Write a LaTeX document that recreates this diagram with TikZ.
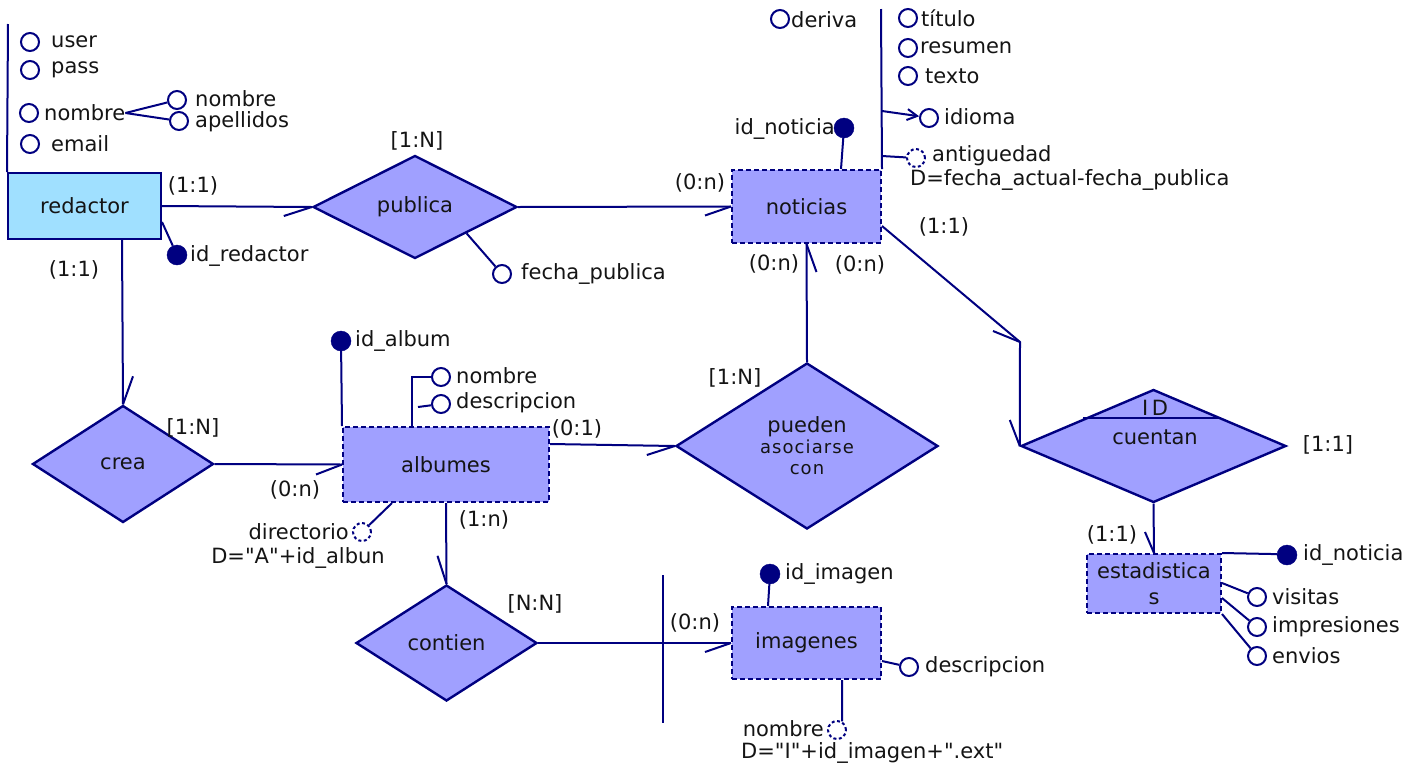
\documentclass[tikz,border=0pt]{standalone}
\usepackage{fontspec}
\setmainfont{DejaVu Sans}[Ligatures=TeXOff]
\usetikzlibrary{shapes.geometric,calc,arrows.meta}
\definecolor{ln}{HTML}{000080}
\definecolor{rel}{HTML}{A0A0FF}
\definecolor{ent}{HTML}{A0E0FF}
\definecolor{txt}{HTML}{141414}
\newcommand{\spacedsmall}{\fontsize{18}{22}\selectfont\addfontfeature{LetterSpace=6}}

\begin{document}
\begin{tikzpicture}[x=1pt,y=-1pt,
  every node/.style={font=\fontsize{21}{24}\selectfont, text=txt},
  conn/.style={draw=ln, line width=2pt},
  entity/.style={rectangle, draw=ln, fill=ent, line width=2pt, inner sep=0pt},
  weak/.style={rectangle, draw=ln, fill=rel, line width=2pt, dash pattern=on 5pt off 3pt, inner sep=0pt},
  relation/.style={diamond, draw=ln, fill=rel, line width=2.4pt, inner sep=0pt},
  attr/.style={circle, draw=ln, line width=2pt, fill=white, minimum size=18pt, inner sep=0pt},
  keyattr/.style={circle, draw=ln, fill=ln, minimum size=20pt, inner sep=0pt},
  derattr/.style={attr, dash pattern=on 3pt off 2.5pt},
  lbl/.style={inner sep=0pt},
]
\useasboundingbox (0,0) rectangle (1422,769);

% ---------- entities ----------
\node[entity, minimum width=153pt, minimum height=66pt] (redactor) at (84.5,206) {redactor};
\node[weak, minimum width=149pt, minimum height=73pt] (noticias) at (806.5,206.5) {noticias};
\node[weak, minimum width=206pt, minimum height=75pt] (albumes) at (446,464.5) {albumes};
\node[weak, minimum width=149pt, minimum height=72pt] (imagenes) at (806.5,643) {imagenes};
\node[weak, minimum width=134pt, minimum height=59pt, align=center] (estadisticas) at (1154,583.5) {estadistica\\[2pt]s};

% ---------- relationships ----------
\node[relation, minimum width=204pt, minimum height=103pt, aspect=1.98] (publica) at (415,207) {publica};
\node[relation, minimum width=181pt, minimum height=117pt, aspect=1.55] (crea) at (123,464) {crea};
\node[relation, minimum width=262pt, minimum height=166pt, aspect=1.58, align=center] (pueden) at (807,446)
  {pueden\\[-3pt]\spacedsmall asociarse\\[-3pt]\spacedsmall con};
\node[relation, minimum width=265pt, minimum height=113pt, aspect=2.35] (cuentan) at (1153.5,446) {};
\node[relation, minimum width=181pt, minimum height=116pt, aspect=1.56] (contien) at (446.5,643) {contien};
\node[lbl] (t-cuentan) at (1155,437) {cuentan};
\node[lbl] (t-id) at (1155,408) {I\,D};

% ---------- attributes of redactor ----------
\node[attr] (a-user) at (30,42) {};
\node[attr] (a-pass) at (30,70) {};
\node[attr] (a-nombre) at (29,113) {};
\node[attr] (a-email) at (30,144) {};
\node[attr] (a-nom1) at (177,100) {};
\node[attr] (a-ape) at (179,121) {};
\node[keyattr] (k-red) at (177,255) {};
\node[lbl, anchor=west] (t-user) at (51,42) {user};
\node[lbl, anchor=west] (t-pass) at (51,70) {pass};
\node[lbl, anchor=west] (t-nombre) at (44,113) {nombre};
\node[lbl, anchor=west] (t-email) at (51,144) {email};
\node[lbl, anchor=west] (t-nom1) at (195,99) {nombre};
\node[lbl, anchor=west] (t-ape) at (195,122) {apellidos};
\node[lbl, anchor=west] (t-idred) at (190,256) {id\_redactor};

% ---------- attribute of publica ----------
\node[attr] (a-fecha) at (502,274) {};
\node[lbl, anchor=west] (t-fecha) at (521,274) {fecha\_publica};

% ---------- attributes of noticias ----------
\node[keyattr] (k-not) at (844,128) {};
\node[lbl, anchor=east] (t-idnot) at (835,129) {id\_noticia};
\node[attr] (a-deriva) at (780,19) {};
\node[lbl, anchor=west] (t-deriva) at (791,20) {deriva};
\node[attr] (a-titulo) at (908,18) {};
\node[lbl, anchor=west] (t-titulo) at (921,18) {título};
\node[attr] (a-resumen) at (908,48) {};
\node[lbl, anchor=west] (t-resumen) at (920,48) {resumen};
\node[attr] (a-texto) at (908,76) {};
\node[lbl, anchor=west] (t-texto) at (925,76) {texto};
\node[attr] (a-idioma) at (929,118) {};
\node[lbl, anchor=west] (t-idioma) at (944,117) {idioma};
\node[derattr] (d-ant) at (916,158) {};
\node[lbl, anchor=west] (t-ant) at (932,156) {antiguedad};
\node[lbl, anchor=west] (t-antd) at (910,180) {D=fecha\_actual-fecha\_publica};

% ---------- attributes of albumes ----------
\node[keyattr] (k-alb) at (341,341) {};
\node[lbl, anchor=west] (t-idalb) at (355,341) {id\_album};
\node[attr] (a-anom) at (441,377) {};
\node[lbl, anchor=west] (t-anom) at (456,376) {nombre};
\node[attr] (a-adesc) at (441,404) {};
\node[lbl, anchor=west] (t-adesc) at (456,403) {descripcion};
\node[derattr] (d-dir) at (362,532) {};
\node[lbl, anchor=east] (t-dir) at (349,532) {directorio};
\node[lbl] (t-dird) at (298,558) {D="A"+id\_albun};

% ---------- attributes of imagenes ----------
\node[keyattr] (k-img) at (770,574) {};
\node[lbl, anchor=west] (t-idimg) at (785,574) {id\_imagen};
\node[attr] (a-idesc) at (909,667) {};
\node[lbl, anchor=west] (t-idesc) at (925,667) {descripcion};
\node[derattr] (d-inom) at (837,730) {};
\node[lbl, anchor=east] (t-inom) at (824,729) {nombre};
\node[lbl, anchor=west] (t-inomd) at (741,753) {D="I"+id\_imagen+".ext"};

% ---------- attributes of estadisticas ----------
\node[keyattr] (k-est) at (1287,555) {};
\node[lbl, anchor=west] (t-idest) at (1303,555) {id\_noticia};
\node[attr] (a-vis) at (1257,597) {};
\node[lbl, anchor=west] (t-vis) at (1272,597) {visitas};
\node[attr] (a-imp) at (1257,627) {};
\node[lbl, anchor=west] (t-imp) at (1272,627) {impresiones};
\node[attr] (a-env) at (1257,656) {};
\node[lbl, anchor=west] (t-env) at (1272,656) {envios};

% ---------- cardinalities ----------
\node[lbl] (c1) at (193,186) {(1:1)};
\node[lbl] (c2) at (74,270) {(1:1)};
\node[lbl] (c3) at (417,141) {[1:N]};
\node[lbl] (c4) at (700,183) {(0:n)};
\node[lbl] (c5) at (774,264) {(0:n)};
\node[lbl] (c6) at (860,265) {(0:n)};
\node[lbl] (c7) at (944,227) {(1:1)};
\node[lbl] (c8) at (193,428) {[1:N]};
\node[lbl] (c9) at (295,490) {(0:n)};
\node[lbl] (c10) at (577,429) {(0:1)};
\node[lbl] (c11) at (735,378) {[1:N]};
\node[lbl] (c12) at (484,520) {(1:n)};
\node[lbl] (c13) at (535,604) {[N:N]};
\node[lbl] (c14) at (695,623) {(0:n)};
\node[lbl] (c15) at (1328,445) {[1:1]};
\node[lbl] (c16) at (1112,535) {(1:1)};

% ---------- free ends ----------
\coordinate (rtop) at (8,24);
\coordinate (ntop) at (881,9);
\coordinate (nbend) at (1020,342);
\coordinate (crossT) at (663,575);
\coordinate (crossB) at (663,723);
\coordinate (idL) at (1083,418);
\coordinate (idR) at (1218,418);
\coordinate (adesc-s) at (418,407);

% ---------- relationship connectors ----------
\draw[conn] (redactor.east) -- (publica.west);
\draw[conn] (publica.west) -- ++(-28,9);
\draw[conn] (publica.east) -- (noticias.west);
\draw[conn] (noticias.west) -- ++(-26,9);
\draw[conn] ($(redactor.south west)+(115,0)$) -- (crea.north);
\draw[conn] (crea.north) -- ++(10,-28);
\draw[conn] (crea.east) -- (albumes.west);
\draw[conn] (albumes.west) -- ++(-26,10);
\draw[conn] ($(albumes.north east)+(0,18)$) -- (pueden.west);
\draw[conn] (pueden.west) -- ++(-28,9);
\draw[conn] (noticias.south) -- (pueden.north);
\draw[conn] (noticias.south) -- ++(10,28);
\draw[conn] ($(noticias.north east)+(0,57)$) -- (nbend) -- (cuentan.west);
\draw[conn] (nbend) -- ++(-27,-11);
\draw[conn] (cuentan.west) -- ++(-10,-26);
\draw[conn] (idL) -- (idR);
\draw[conn] (cuentan.south) -- (estadisticas.north);
\draw[conn] (estadisticas.north) -- ++(-9,-21);
\draw[conn] (albumes.south) -- (contien.north);
\draw[conn] (contien.north) -- ++(-9,-28);
\draw[conn] (contien.east) -- (imagenes.west);
\draw[conn] (imagenes.west) -- ++(-26,9);
\draw[conn] (crossT) -- (crossB);

% ---------- attribute connectors ----------
\draw[conn] (redactor.north west) -- (rtop);
\draw[conn] (t-nombre.east) -- (a-nom1);
\draw[conn] (t-nombre.east) -- (a-ape);
\draw[conn] ($(redactor.north east)+(0,50)$) -- (k-red);
\draw[conn] ($(publica.south)!0.5!(publica.east)$) -- (a-fecha);
\draw[conn] ($(noticias.north west)+(110,0)$) -- (k-not);
\draw[conn] (noticias.north east) -- (ntop);
\draw[conn, -{Straight Barb[length=10pt,width=11pt]}] ($(noticias.north east)+(0,-58)$) -- (a-idioma.170);
\draw[conn] ($(noticias.north east)+(0,-13)$) -- (d-ant);
\draw[conn] (albumes.north west) -- (k-alb);
\draw[conn] ($(albumes.north west)+(70,0)$) |- (a-anom);
\draw[conn] (adesc-s) -- (a-adesc);
\draw[conn] ($(albumes.south west)+(50,0)$) -- (d-dir);
\draw[conn] ($(imagenes.north west)+(37,0)$) -- (k-img);
\draw[conn] ($(imagenes.north east)+(0,55)$) -- (a-idesc);
\draw[conn] ($(imagenes.south west)+(111,0)$) -- (d-inom.60);
\draw[conn] (estadisticas.north east) -- (k-est.175);
\draw[conn] ($(estadisticas.north east)+(0,30)$) -- (a-vis);
\draw[conn] ($(estadisticas.north east)+(0,45)$) -- (a-imp);
\draw[conn] (estadisticas.south east) -- (a-env);
\end{tikzpicture}
\end{document}
